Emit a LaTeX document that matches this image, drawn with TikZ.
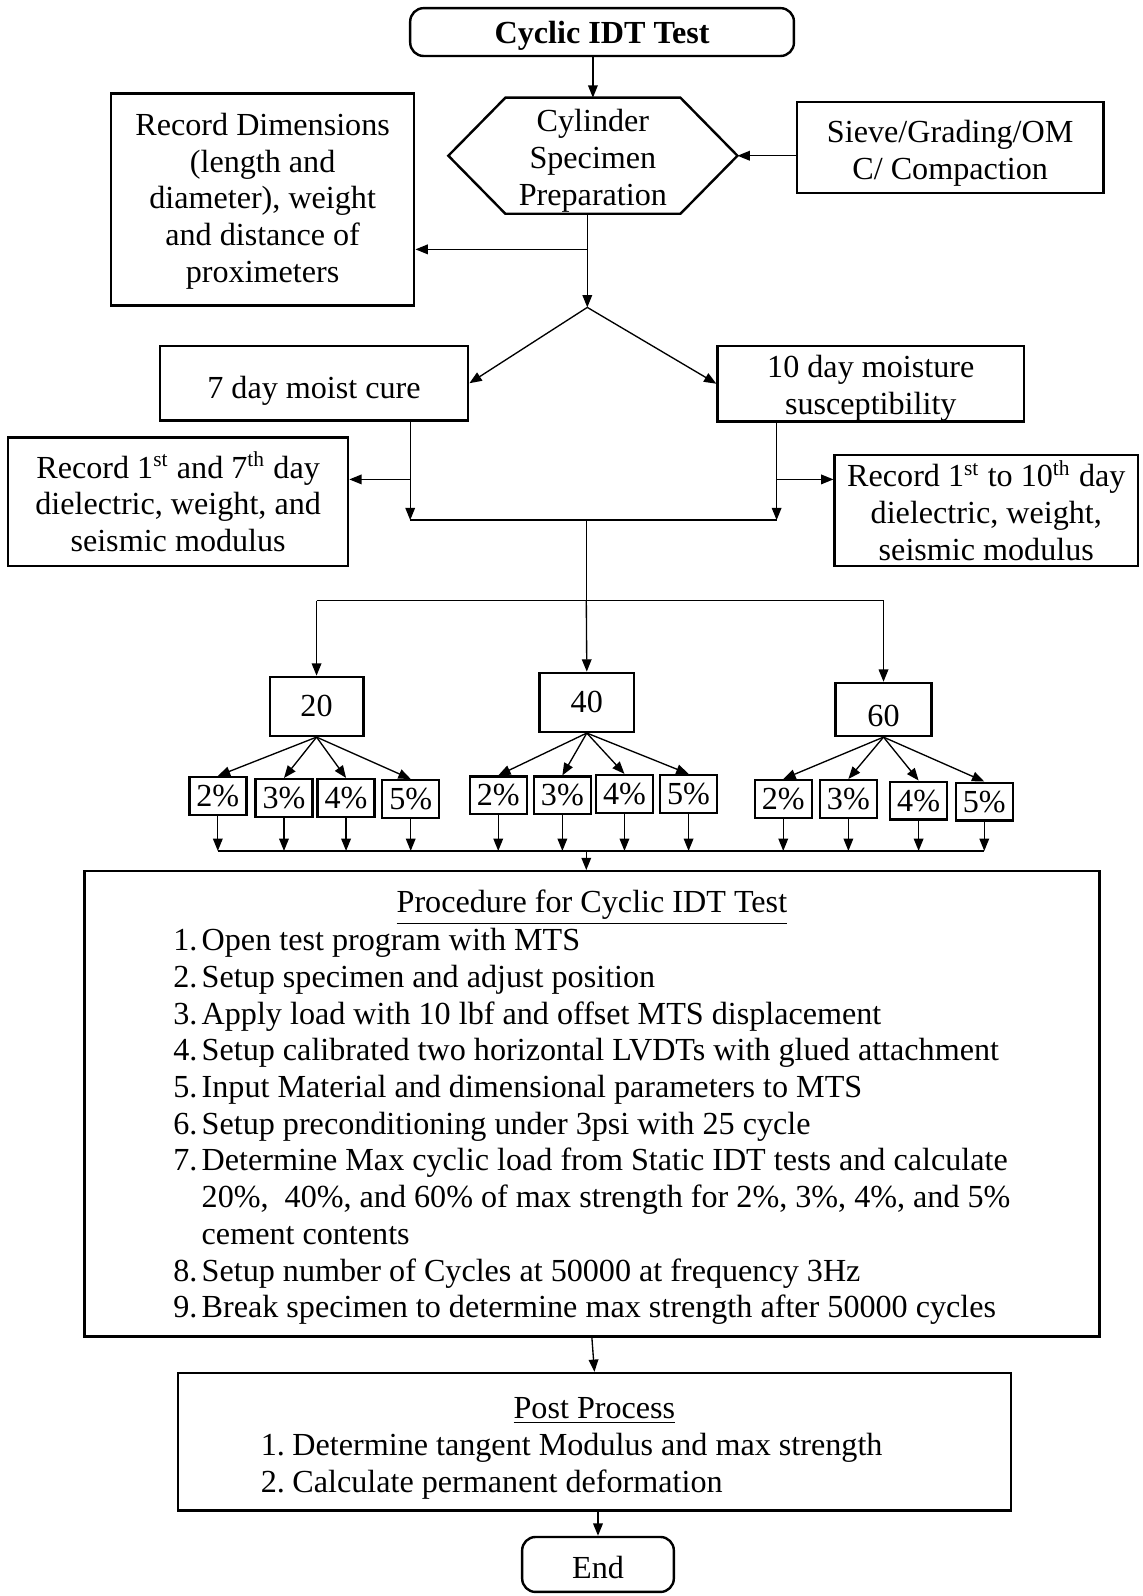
\documentclass[tikz,border=0pt]{standalone}
\usepackage{fontspec}
\setmainfont{Liberation Serif}
\usepackage{tikz}
\usetikzlibrary{arrows.meta}
\tikzset{
  frame/.style={draw, line width=0.9pt},
  box/.style={frame, align=center, inner sep=0pt},
  term/.style={box, rounded corners=5pt},
  sz/.style 2 args={minimum width=#1*0.38pt, minimum height=#2*0.38pt},
  pct/.style={box, sz={56}{37}},
  arr/.style={-{Triangle[length=4.6pt,width=3.6pt]}, line width=0.5pt},
  wire/.style={line width=0.5pt},
}
% strut on a first line, pushes the text block down a little
\newcommand{\lift}[1]{\rule{0pt}{#1}}
% move contents up or down without changing its reported size
\newcommand{\shiftv}[2]{\raisebox{#1}[\height][\depth]{#2}}

\begin{document}
\begin{tikzpicture}[x=0.38pt, y=-0.38pt, font=\fontsize{12}{13.7}\selectfont]
    \useasboundingbox (0,0) rectangle (1122,1568);
    % top part
    \node[term, sz={377}{47}, font=\fontsize{12}{13.7}\selectfont\bfseries] (start) at (591.5,31.5) {\shiftv{-1.5pt}{Cyclic IDT Test}};
    \node[align=center, inner sep=0pt, sz={283}{113}] (prep) at (582.5,153) {\lift{12pt}Cylinder\\Specimen\\Preparation};
    \draw[frame] (prep.west) -- ([xshift=21.3pt]prep.north west) -- ([xshift=-21.3pt]prep.north east)
      -- (prep.east) -- ([xshift=-21.3pt]prep.south east) -- ([xshift=21.3pt]prep.south west) -- cycle;
    \node[box, sz={301}{89}] (sieve) at (933.5,145) {\lift{12.8pt}Sieve/Grading/OM\\C/ Compaction};
    \node[box, sz={298}{208}] (dims) at (258,196) {\lift{9.5pt}Record Dimensions\\(length and\\diameter), weight\\and distance of\\proximeters};
    \coordinate (fork) at (577,302);
    \coordinate (jdim) at (577,245);
    \draw[arr] (start.south -| prep.north) -- (prep.north);
    \draw[arr] (sieve.west |- prep.east) -- (prep.east);
    \draw[arr] (prep.south -| fork) -- (fork);
    \draw[arr] (jdim) -- (jdim -| dims.east);
    % curing
    \node[box, sz={303}{73}] (moist) at (308.5,376.5) {\shiftv{-2.7pt}{7 day moist cure}};
    \node[box, sz={301}{72}] (moisture) at (855.5,377) {\lift{12pt}10 day moisture\\susceptibility};
    \node[box, sz={334}{126}] (rec7) at (175,493) {Record 1\textsuperscript{st} and 7\textsuperscript{th} day\\dielectric, weight, and\\seismic modulus};
    \node[box, sz={298}{109}] (rec10) at (969,501.5) {Record 1\textsuperscript{st} to 10\textsuperscript{th} day\\dielectric, weight,\\seismic modulus};
    \draw[arr] (fork) -- (moist.east);
    \draw[arr] (fork) -- (moisture.west);
    \coordinate (jl) at (403,511);
    \coordinate (jr) at (763,511);
    \coordinate (tl) at (403,471);
    \coordinate (tr) at (763,471);
    \draw[arr] (moist.south -| jl) -- (jl);
    \draw[arr] (moisture.south -| jr) -- (jr);
    \draw[arr] (tl) -- (tl -| rec7.east);
    \draw[arr] (tr) -- (tr -| rec10.west);
    \draw[wire] (jl) -- (jr);
    % load levels
    \node[box, sz={92}{58}] (g20) at (311,694) {20};
    \node[box, sz={93}{58}] (g40) at (576.5,690) {40};
    \node[box, sz={94}{52}] (g60) at (868,697) {\shiftv{-2.3pt}{60}};
    \coordinate (jm) at (576,511);
    \coordinate (bus) at (576,590);
    \draw[wire] (jm) -- (bus);
    \draw[wire] (bus -| g20) -- (bus -| g60);
    \draw[arr] (bus -| g20) -- (g20.north);
    \draw[arr] (bus) -- (g40.north);
    \draw[arr] (bus -| g60) -- (g60.north);
    % cement contents
    \node[pct] (p2a) at (214,782) {2\%};
    \node[pct] (p3a) at (279,784) {3\%};
    \node[pct] (p4a) at (340,784) {4\%};
    \node[pct] (p5a) at (403.5,785) {5\%};
    \node[pct] (p2b) at (489.5,781.5) {2\%};
    \node[pct] (p3b) at (552.5,781.5) {3\%};
    \node[pct] (p4b) at (613.5,780) {4\%};
    \node[pct] (p5b) at (676.5,780) {5\%};
    \node[pct] (p2c) at (769.5,785) {2\%};
    \node[pct] (p3c) at (833.5,785) {3\%};
    \node[pct] (p4c) at (902.5,786.5) {4\%};
    \node[pct] (p5c) at (967,787.5) {5\%};
    \draw[arr] (g20.south) -- (p2a.north);
    \draw[arr] (g20.south) -- (p3a.north);
    \draw[arr] (g20.south) -- (p4a.north);
    \draw[arr] (g20.south) -- (p5a.north);
    \draw[arr] (g40.south) -- (p2b.north);
    \draw[arr] (g40.south) -- (p3b.north);
    \draw[arr] (g40.south) -- (p4b.north);
    \draw[arr] (g40.south) -- (p5b.north);
    \draw[arr] (g60.south) -- (p2c.north);
    \draw[arr] (g60.south) -- (p3c.north);
    \draw[arr] (g60.south) -- (p4c.north);
    \draw[arr] (g60.south) -- (p5c.north);
    \coordinate (low) at (576,836);
    \draw[arr] (p2a.south) -- (p2a.south |- low);
    \draw[arr] (p3a.south) -- (p3a.south |- low);
    \draw[arr] (p4a.south) -- (p4a.south |- low);
    \draw[arr] (p5a.south) -- (p5a.south |- low);
    \draw[arr] (p2b.south) -- (p2b.south |- low);
    \draw[arr] (p3b.south) -- (p3b.south |- low);
    \draw[arr] (p4b.south) -- (p4b.south |- low);
    \draw[arr] (p5b.south) -- (p5b.south |- low);
    \draw[arr] (p2c.south) -- (p2c.south |- low);
    \draw[arr] (p3c.south) -- (p3c.south |- low);
    \draw[arr] (p4c.south) -- (p4c.south |- low);
    \draw[arr] (p5c.south) -- (p5c.south |- low);
    \draw[wire] (p2a.south |- low) -- (p5c.south |- low);
    % procedure and post processing
    \node[box, sz={997}{457}] (proc) at (581.5,1084.5) {\shiftv{-1.5pt}{%
      \begin{tabular}{@{}l@{\hspace{1.6pt}}l@{}}
        \multicolumn{2}{@{}c@{}}{\underline{Procedure for Cyclic IDT Test}}\\
        1. & Open test program with MTS\\
        2. & Setup specimen and adjust position\\
        3. & Apply load with 10 lbf and offset MTS displacement\\
        4. & Setup calibrated two horizontal LVDTs with glued attachment\\
        5. & Input Material and dimensional parameters to MTS\\
        6. & Setup preconditioning under 3psi with 25 cycle\\
        7. & Determine Max cyclic load from Static IDT tests and calculate\\
           & 20\%,\ \ 40\%, and 60\% of max strength for 2\%, 3\%, 4\%, and 5\%\\
           & cement contents\\
        8. & Setup number of Cycles at 50000 at frequency 3Hz\\
        9. & Break specimen to determine max strength after 50000 cycles
      \end{tabular}}};
    \node[box, sz={818}{135}] (post) at (584,1416.5) {\shiftv{-2.4pt}{%
      \begin{tabular}{@{}l@{\hspace{2.8pt}}l@{\hspace{17pt}}}
        \multicolumn{2}{@{}c@{}}{\underline{Post Process}}\\
        1. & Determine tangent Modulus and max strength\\
        2. & Calculate permanent deformation
      \end{tabular}}};
    \node[term, sz={149}{54}] (fin) at (587.5,1537) {\shiftv{-1.1pt}{End}};
    \draw[arr] (low) -- (low |- proc.north);
    \draw[arr] (proc.south) -- (post.north);
    \draw[arr] (post.south -| fin) -- (fin.north);
\end{tikzpicture}
\end{document}
